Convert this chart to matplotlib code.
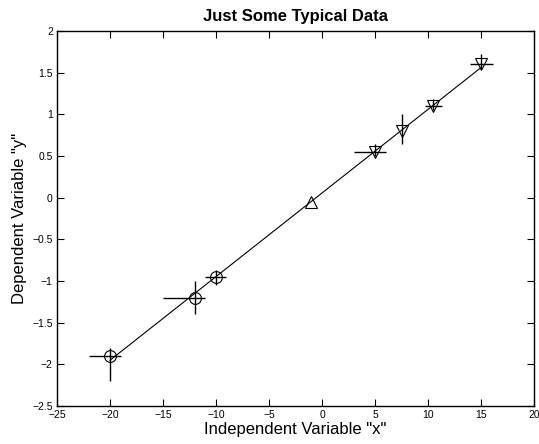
import numpy as np
import matplotlib
matplotlib.use('Agg')
import matplotlib.pyplot as plt
from matplotlib.ticker import FuncFormatter

plt.rcParams['font.family'] = ['Liberation Sans', 'DejaVu Sans']

# circles
x_c = [-20, -12, -10]
y_c = [-1.9, -1.2, -0.95]
xerr_c = [[2, 3, 1], [1, 1, 0.9]]
yerr_c = [[0.3, 0.2, 0.1], [0.1, 0.2, 0.08]]

# up triangle
x_u = [-1]
y_u = [-0.05]

# down triangles
x_d = [5, 7.5, 10.5, 15]
y_d = [0.55, 0.8, 1.1, 1.6]
xerr_d = [[2, 0, 0.8, 1], [1, 0, 0.8, 1.1]]
yerr_d = [[0.05, 0.15, 0.05, 0.05], [0.1, 0.2, 0.08, 0.13]]

x_all = x_c + x_u + x_d
y_all = y_c + y_u + y_d
slope, icpt = np.polyfit(x_all, y_all, 1)

fig = plt.figure(figsize=(5.39, 4.44), dpi=100)
ax = fig.add_axes([0.1058, 0.0856, 0.885, 0.8445])

xl = np.array([min(x_all), max(x_all)])
ax.plot(xl, slope * xl + icpt, color='black', lw=0.8)

ax.errorbar(x_c, y_c, xerr=xerr_c, yerr=yerr_c, fmt='o', mfc='none', mec='black',
            ms=8.5, mew=0.8, ecolor='black', elinewidth=1.0, capsize=0)
ax.plot(x_u, y_u, '^', mfc='none', mec='black', ms=9, mew=0.8)
ax.errorbar(x_d, y_d, xerr=xerr_d, yerr=yerr_d, fmt='v', mfc='none', mec='black',
            ms=9, mew=0.8, ecolor='black', elinewidth=1.0, capsize=0)

ax.set_xlim(-25, 20)
ax.set_ylim(-2.5, 2)
ax.set_xticks(np.arange(-25, 21, 5))
ax.set_yticks(np.arange(-2.5, 2.01, 0.5))
fmt = FuncFormatter(lambda v, p: ('%g' % v).replace('-', '\u2212'))
ax.xaxis.set_major_formatter(fmt)
ax.yaxis.set_major_formatter(fmt)
ax.tick_params(direction='in', top=True, right=True, length=5, width=0.8, labelsize=7.5, pad=3)
for s in ax.spines.values():
    s.set_linewidth(1.0)

ax.set_title('Just Some Typical Data', fontsize=12, fontweight='bold', pad=7)
ax.set_xlabel('Independent Variable "x"', fontsize=12, labelpad=1)
ax.set_ylabel('Dependent Variable "y"', fontsize=12, labelpad=4)

fig.savefig('out.png', dpi=100)
